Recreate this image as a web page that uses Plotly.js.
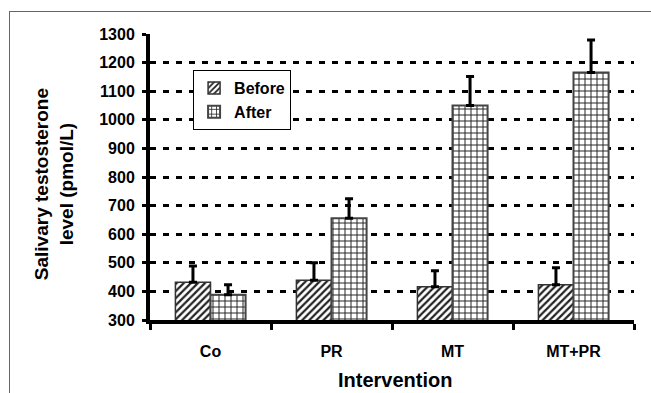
<!DOCTYPE html>
<html>
<head>
<meta charset="utf-8">
<script src="https://cdn.plot.ly/plotly-3.0.1.min.js"></script>
<style>
  html, body { margin: 0; padding: 0; background: #fff; }
  #wrap { position: relative; width: 651px; height: 393px; overflow: hidden; }
  #frame { position: absolute; left: 9px; top: 11px; width: 700px; height: 500px;
           border-left: 1px solid #666; border-top: 1px solid #666; }
  #chart { position: absolute; left: 0; top: 0; width: 651px; height: 393px; }
</style>
</head>
<body>
<div id="wrap">
  <div id="frame"></div>
  <div id="chart"></div>
</div>
<script>
const categories = ["Co", "PR", "MT", "MT+PR"];
const beforeValues = [432, 439, 416, 423];
const beforeErrors = [57, 61, 56, 60];
const afterValues = [388, 656, 1050, 1165];
const afterErrors = [35, 68, 101, 114];
const yTickValues = [300, 400, 500, 600, 700, 800, 900, 1000, 1100, 1200, 1300];

const FONT = "Liberation Sans, Arial, sans-serif";
const zeros = categories.map(() => 0);

const traces = [
  {
    type: "bar", name: "Before", x: categories, y: beforeValues,
    marker: {
      color: "#ffffff",
      line: { color: "#333333", width: 1.5 },
      pattern: { shape: "/", fgcolor: "#222222", bgcolor: "#ffffff", size: 5, solidity: 0.45 }
    },
    error_y: { type: "data", symmetric: false, array: beforeErrors, arrayminus: zeros,
               color: "#000000", thickness: 3, width: 4 }
  },
  {
    type: "bar", name: "After", x: categories, y: afterValues,
    marker: {
      color: "#ffffff",
      line: { color: "#444444", width: 2 },
      pattern: { shape: "+", fgcolor: "#222222", bgcolor: "#ffffff", size: 6, solidity: 0.3 }
    },
    error_y: { type: "data", symmetric: false, array: afterErrors, arrayminus: zeros,
               color: "#000000", thickness: 3, width: 4 }
  }
];

const layout = {
  width: 651, height: 393,
  margin: { l: 150, r: 17, t: 34, b: 73 },
  paper_bgcolor: "rgba(0,0,0,0)",
  plot_bgcolor: "rgba(0,0,0,0)",
  font: { family: FONT, size: 16, color: "#000000", weight: "bold" },
  barmode: "group",
  bargap: 0.42,
  bargroupgap: 0,
  showlegend: true,
  legend: {
    x: 0.089, y: 0.874, xanchor: "left", yanchor: "top",
    bgcolor: "#ffffff", bordercolor: "#000000", borderwidth: 1,
    font: { family: FONT, size: 16, weight: "bold" },
    traceorder: "normal",
    entrywidth: 110, entrywidthmode: "pixels"
  },
  xaxis: {
    type: "category",
    showline: true, linecolor: "#000000", linewidth: 4,
    ticks: "outside", tickson: "boundaries", ticklen: 6, tickwidth: 3, tickcolor: "#000000",
    ticklabelstandoff: 14,
    showgrid: false, zeroline: false,
    tickfont: { family: FONT, size: 16, weight: "bold" }
  },
  yaxis: {
    range: [300, 1300],
    tickvals: yTickValues,
    showline: true, linecolor: "#000000", linewidth: 4,
    ticks: "outside", ticklen: 4, tickwidth: 3, tickcolor: "#000000",
    ticklabelstandoff: 4,
    showgrid: true, gridcolor: "#000000", gridwidth: 3, griddash: "6px,7px",
    zeroline: false,
    tickfont: { family: FONT, size: 16, weight: "bold" }
  },
  annotations: [
    {
      text: "Salivary testosterone<br>level (pmol/L)",
      xref: "paper", yref: "paper", x: -0.198, y: 0.4755,
      xanchor: "center", yanchor: "middle", textangle: -90, showarrow: false,
      font: { family: FONT, size: 19, weight: "bold" }
    },
    {
      text: "Intervention",
      xref: "paper", yref: "paper", x: 0.506, y: -0.21,
      xanchor: "center", yanchor: "middle", showarrow: false,
      font: { family: FONT, size: 20, weight: "bold" }
    }
  ]
};

Plotly.newPlot("chart", traces, layout, { displayModeBar: false, staticPlot: true });
</script>
</body>
</html>
